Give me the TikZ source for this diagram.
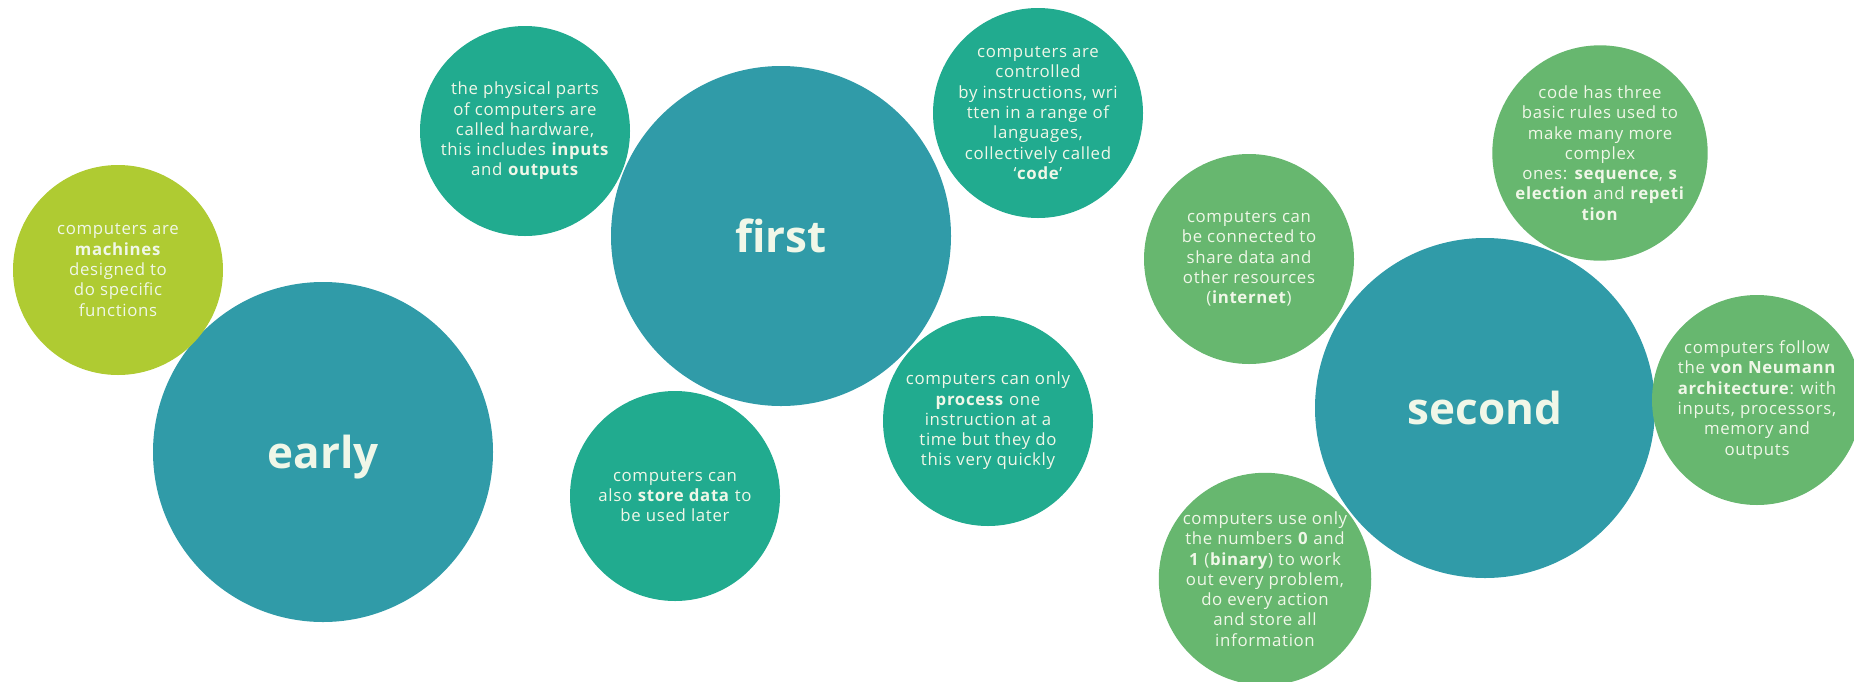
\documentclass[tikz,border=0pt]{standalone}
\usepackage{fontspec}
\setmainfont{Open Sans}
\newfontfamily\bodyfont[LetterSpace=4]{Open Sans}
\definecolor{bigteal}{RGB}{48,155,168}
\definecolor{midteal}{RGB}{33,171,143}
\definecolor{softgreen}{RGB}{103,183,111}
\definecolor{lime}{RGB}{175,203,50}
\definecolor{cream}{RGB}{240,247,232}
\tikzset{
  bubble/.style={circle, draw=none, inner sep=0pt, text=cream, align=center,
    font=\bodyfont\fontsize{16.8}{20.3}\selectfont},
  bigbubble/.style={bubble, fill=bigteal, minimum size=340pt,
    font=\fontsize{44}{50}\selectfont\bfseries},
  tealbubble/.style={bubble, fill=midteal, minimum size=210pt},
  greenbubble/.style={bubble, fill=softgreen, minimum size=210pt},
  limebubble/.style={bubble, fill=lime, minimum size=210pt}
}
\begin{document}
\begin{tikzpicture}[x=1pt,y=-1pt]
\useasboundingbox (0,0) rectangle (1854,681);
\clip (0,0) rectangle (1854,681);

% era circles
\node[bigbubble] (early)  at (323,452) {\raisebox{-5pt}[\height][\depth]{early}};
\node[bigbubble] (first)  at (781,236) {first};
\node[bigbubble] (second) at (1485,408) {second};

% early
\node[limebubble] (machines) at (118,270)
  {computers are\\\textbf{machines}\\designed to\\do specific\\functions};

% first
\node[tealbubble] (hardware) at (525,131)
  {the physical parts\\of computers are\\called hardware,\\this includes \textbf{inputs}\\and \textbf{outputs}};
\node[tealbubble] (code) at (1038,113)
  {computers are\\controlled\\by instructions, wri\\tten in a range of\\languages,\\collectively called\\‘\textbf{code}’};
\node[tealbubble] (store) at (675,496)
  {computers can\\also \textbf{store data} to\\be used later};
\node[tealbubble] (process) at (988,421)
  {computers can only\\\textbf{process} one\\instruction at a\\time but they do\\this very quickly};

% second
\node[greenbubble] (internet) at (1249,259)
  {computers can\\be connected to\\share data and\\other resources\\(\textbf{internet})};
\node[greenbubble] (rules) at (1600,153)
  {code has three\\basic rules used to\\make many more\\complex\\ones: \textbf{sequence}, \textbf{s}\\\textbf{election} and \textbf{repeti}\\\textbf{tion}};
\node[greenbubble] (neumann) at (1757,400)
  {computers follow\\the \textbf{von Neumann}\\\textbf{architecture}: with\\inputs, processors,\\memory and\\outputs};
\node[greenbubble] (binary) at (1265,579)
  {computers use only\\the numbers \textbf{0} and\\\textbf{1} (\textbf{binary}) to work\\out every problem,\\do every action\\and store all\\information};
\end{tikzpicture}
\end{document}
